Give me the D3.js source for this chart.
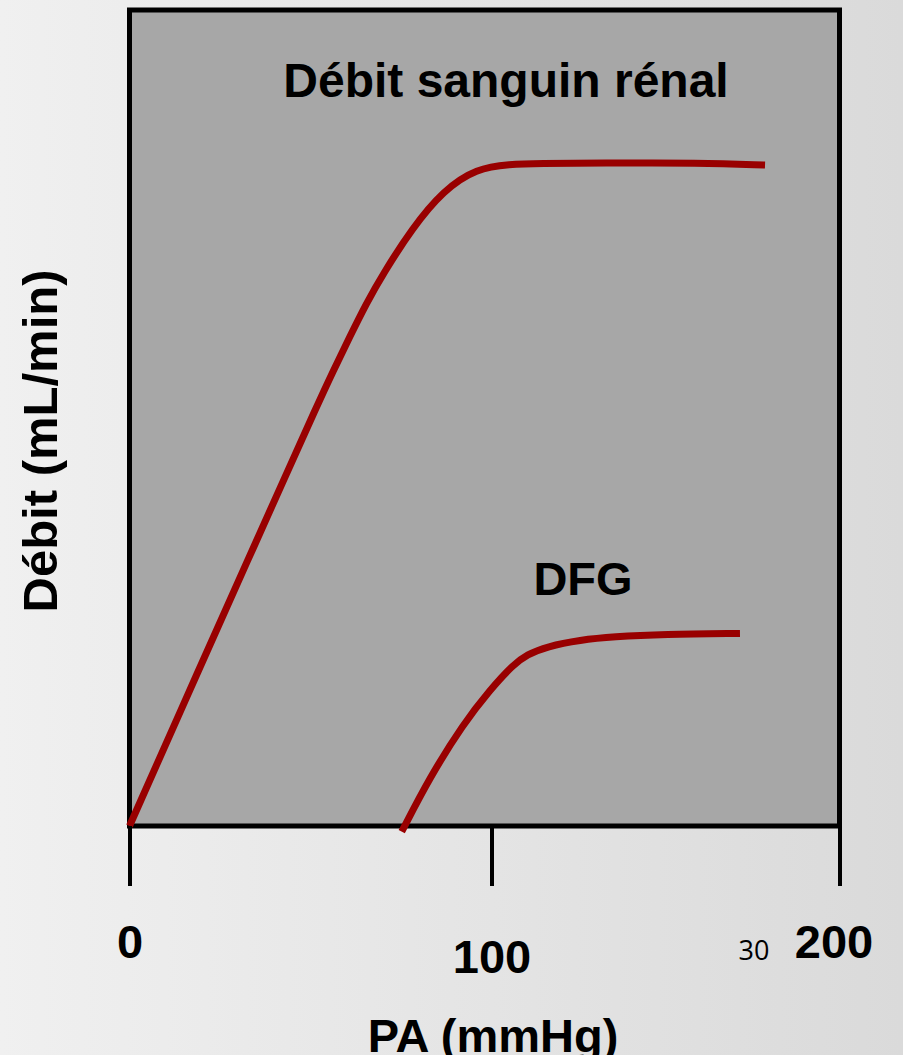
<!DOCTYPE html>
<html>
<head>
<meta charset="utf-8">
<script src="https://cdn.jsdelivr.net/npm/d3@7"></script>
<style>
  body { margin: 0; padding: 0; overflow: hidden; }
  text { font-family: "Liberation Sans", Arial, sans-serif; }
</style>
</head>
<body>
<div id="chart"></div>
<script>
var w = 903;
var h = 1055;

// PA (mmHg) vs débit (unités arbitraires)
var rbfPA    = [0, 19.5, 33.3, 43.0, 51.7, 56.3, 60.9, 65.5, 70.1, 78.0, 86.7, 95.9, 105.3, 113.4, 131.2, 159.9, 178.6];
var rbfDebit = [0, 19.5, 33.2, 42.8, 51.4, 55.8, 60.0, 64.1, 67.7, 73.2, 77.9, 80.6, 81.1, 81.2, 81.25, 81.25, 81.0];
var dfgPA    = [75.2, 83.0, 92.2, 99.6, 106.3, 110.2, 115.9, 125.5, 135.0, 149.4, 171.4];
var dfgDebit = [-0.7, 6.0, 12.5, 16.7, 19.8, 21.0, 22.0, 22.8, 23.2, 23.5, 23.6];
var xTicks = [0, 100, 200];
var titleRbf = "Débit sanguin rénal";
var titleDfg = "DFG";
var xLabel = "PA (mmHg)";
var yLabel = "Débit (mL/min)";
var slideNum = "30";

var svg = d3.select("#chart")
            .append("svg")
            .attr("width", w)
            .attr("height", h);

var defs = svg.append("defs");
var grad = defs.append("linearGradient")
            .attr("id", "bg")
            .attr("x1", 0).attr("x2", 1).attr("y1", 0).attr("y2", 0);
grad.append("stop").attr("offset", "0%").attr("stop-color", "#f0f0f0");
grad.append("stop").attr("offset", "100%").attr("stop-color", "#dadada");

svg.append("rect")
    .attr("width", w)
    .attr("height", h)
    .attr("fill", "url(#bg)");

// axis scale is not quite even in the original
var x = d3.scaleLinear()
            .domain([0, 100, 200])
            .range([129.5, 491.5, 839.5]);

var y = d3.scaleLinear()
            .domain([0, 100])
            .range([826, 10]);

svg.append("rect")
    .attr("x", x(0))
    .attr("y", y(100))
    .attr("width", x(200) - x(0))
    .attr("height", y(0) - y(100))
    .attr("fill", "#a7a7a7")
    .attr("stroke", "#000")
    .attr("stroke-width", 5);

var line = d3.line()
            .x(function(d) { return x(d[0]); })
            .y(function(d) { return y(d[1]); })
            .curve(d3.curveBasis);

var rbf = d3.zip(rbfPA, rbfDebit);
var dfg = d3.zip(dfgPA, dfgDebit);

svg.append("path")
    .datum(rbf)
    .attr("d", line)
    .attr("fill", "none")
    .attr("stroke", "#990000")
    .attr("stroke-width", 7);

svg.append("path")
    .datum(dfg)
    .attr("d", line)
    .attr("fill", "none")
    .attr("stroke", "#990000")
    .attr("stroke-width", 7);

var xAxis = d3.axisBottom(x)
            .tickValues(xTicks)
            .tickSize(60)
            .tickPadding(0)
            .tickFormat(d3.format("d"));

var gx = svg.append("g")
            .attr("transform", "translate(0," + y(0) + ")")
            .call(xAxis);

gx.select(".domain").remove();
gx.selectAll(".tick line")
    .attr("stroke", "#000")
    .attr("stroke-width", 4);
gx.selectAll(".tick text")
    .attr("fill", "#000")
    .attr("font-size", 47)
    .attr("font-weight", "bold")
    .attr("font-family", "Liberation Sans, Arial, sans-serif")
    .attr("dy", null)
    .attr("x", function(d) { return d === 200 ? -6 : 0; })
    .attr("y", function(d) { return d === 100 ? 147 : 132; });

svg.append("text")
    .attr("x", 754)
    .attr("y", 960)
    .attr("text-anchor", "middle")
    .attr("font-size", 27)
    .style("font-family", "'Open Sans', sans-serif")
    .text(slideNum);

svg.append("text")
    .attr("x", 506)
    .attr("y", 97)
    .attr("text-anchor", "middle")
    .attr("font-size", 48)
    .attr("font-weight", "bold")
    .text(titleRbf);

svg.append("text")
    .attr("x", 583)
    .attr("y", 595)
    .attr("text-anchor", "middle")
    .attr("font-size", 47)
    .attr("font-weight", "bold")
    .text(titleDfg);

svg.append("text")
    .attr("x", 493)
    .attr("y", 1052)
    .attr("text-anchor", "middle")
    .attr("font-size", 47)
    .attr("font-weight", "bold")
    .text(xLabel);

svg.append("text")
    .attr("transform", "translate(57,441) rotate(-90)")
    .attr("text-anchor", "middle")
    .attr("font-size", 49)
    .attr("font-weight", "bold")
    .text(yLabel);
</script>
</body>
</html>
